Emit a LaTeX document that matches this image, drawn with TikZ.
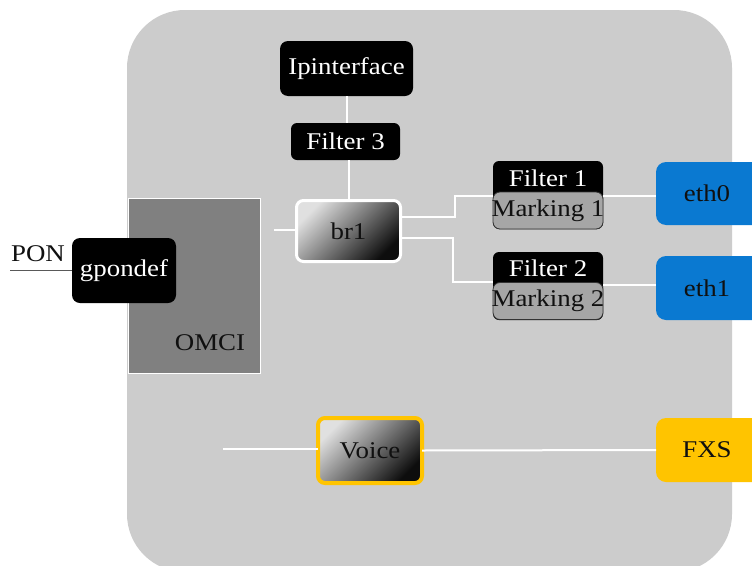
\documentclass[tikz,border=0pt]{standalone}
\usepackage{fontspec}
\setmainfont{Liberation Serif}[FakeStretch=1.12]
\definecolor{bg}{HTML}{CCCCCC}
\definecolor{omcigray}{HTML}{808080}
\definecolor{markgray}{HTML}{A6A6A6}
\definecolor{ethblue}{HTML}{0A79D1}
\definecolor{gold}{HTML}{FFC400}
\definecolor{txtdark}{HTML}{101010}
\begin{document}
\begin{tikzpicture}[x=1pt,y=-1pt,
  every node/.style={font=\fontsize{24}{28}\selectfont, inner sep=0pt, outer sep=0pt},
  blackbox/.style={rectangle, rounded corners=8pt, fill=black, text=white},
  markbox/.style={rectangle, rounded corners=7pt, fill=markgray, draw=black!80, line width=0.8pt},
  gradbox/.style={rectangle, rounded corners=7pt, shade, top color=black!12, bottom color=black!95, shading angle=45, text=txtdark},
  ethbox/.style={rectangle, rounded corners=10pt, fill=ethblue, text=txtdark},
  link/.style={draw=white, line width=2pt}
]
\useasboundingbox (0,0) rectangle (752,565);
\fill[white] (0,0) rectangle (752,565);
% big panel
\fill[bg, rounded corners=58pt] (127,10) rectangle (732,572);

% OMCI block
\node[rectangle, fill=omcigray, draw=white, line width=1pt, minimum width=132pt, minimum height=175pt] (omci) at (194,285.5) {};
\node[text=txtdark] (omcit) at (210,343) {OMCI};

% gpondef and PON
\node[blackbox, minimum width=104pt, minimum height=65pt] (gpon) at (124,270.5) {gpondef};
\node[text=txtdark] (pon) at (38,254) {PON};
\coordinate (ponend) at (10,270);
\draw[draw=black!65, line width=1pt] (ponend) -- (gpon.west |- ponend);

% Ipinterface / Filter 3
\node[blackbox, minimum width=133pt, minimum height=55pt] (ipif) at (346.5,68.5) {Ipinterface};
\node[blackbox, rounded corners=6pt, minimum width=109pt, minimum height=37pt] (f3) at (345.5,141.5) {Filter 3};

% br1
\node[gradbox, draw=white, line width=3pt, minimum width=104pt, minimum height=61pt] (br1) at (348.5,231) {br1};

% Filter/Marking 1
\node[blackbox, rounded corners=6pt, minimum width=110pt, minimum height=68pt] (f1) at (548,195) {};
\node[markbox, minimum width=110pt, minimum height=37pt] (m1) at (548,210.5) {};
\node[text=white] (f1t) at (548,178) {Filter 1};
\node[text=txtdark] (m1t) at (548,211) {Marking 1};

% Filter/Marking 2
\node[blackbox, rounded corners=6pt, minimum width=110pt, minimum height=68pt] (f2) at (548,286) {};
\node[markbox, minimum width=110pt, minimum height=37pt] (m2) at (548,301) {};
\node[text=white] (f2t) at (548,268) {Filter 2};
\node[text=txtdark] (m2t) at (548,301) {Marking 2};

% eth boxes
\node[ethbox, minimum width=109pt, minimum height=63pt] (eth0) at (710.5,193.5) {\hspace*{-7pt}eth0};
\node[ethbox, minimum width=109pt, minimum height=64pt] (eth1) at (710.5,288) {\hspace*{-7pt}eth1};

% Voice / FXS
\node[gradbox, draw=gold, line width=4pt, minimum width=104pt, minimum height=65pt] (voice) at (370,450.5) {Voice};
\node[rectangle, rounded corners=10pt, fill=gold, text=txtdark, minimum width=109pt, minimum height=64pt] (fxs) at (710.5,450) {\hspace*{-7pt}FXS};

% connectors
\draw[link] (ipif.south) -- (ipif.south |- f3.north);
\draw[link] (f3.south -| br1.north) -- (br1.north);
\coordinate (brin) at (274,230);
\draw[link] (brin) -- (br1.west |- brin);
\draw[link] (br1.east |- 0,217) -- (455,217) |- (f1.west |- 0,196);
\draw[link] (br1.east |- 0,238) -- (453,238) |- (f2.west |- 0,282);
\draw[link] (f1.east |- 0,196) -- (eth0.west |- 0,196);
\draw[link] (f2.east |- 0,285) -- (eth1.west |- 0,285);
\coordinate (vin) at (223,449);
\draw[link] (vin) -- (voice.west |- vin);
\draw[link] (voice.east) -- (fxs.west);
\end{tikzpicture}
\end{document}
